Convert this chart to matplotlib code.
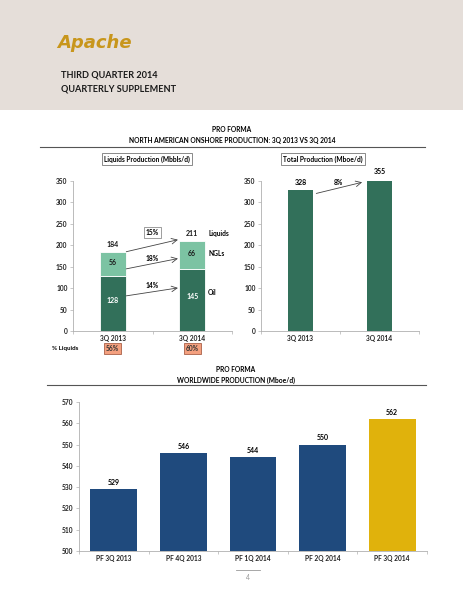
import matplotlib.pyplot as plt
from matplotlib.patches import Rectangle

# --------------- [Data] --------------- #
quarters = ["3Q 2013", "3Q 2014"]
oil = [128, 145]
ngls = [56, 66]
liquids = [184, 211]
liquids_pct = ["56%", "60%"]
growth_labels = ["15%", "18%", "14%"]

total_prod = [328, 355]
total_growth = "8%"

ww_quarters = ["PF 3Q 2013", "PF 4Q 2013", "PF 1Q 2014", "PF 2Q 2014", "PF 3Q 2014"]
ww_prod = [529, 546, 544, 550, 562]

# --------------- [Style] --------------- #
W, H = 464, 600
DARK_GREEN = "#32705a"
LIGHT_GREEN = "#7cc3a3"
NAVY = "#1f4a7d"
GOLD = "#e0b20c"
AXIS_GRAY = "#b0b0b0"
FONT = ["Lato", "DejaVu Sans"]
plt.rcParams["font.family"] = FONT


def px_rect(left, top, right, bottom):
    return [left / W, 1 - bottom / H, (right - left) / W, (bottom - top) / H]


def fx(x):
    return x / W


def fy(y):
    return 1 - y / H


def style_axes(ax, ncat):
    for s in ["top", "right"]:
        ax.spines[s].set_visible(False)
    for s in ["left", "bottom"]:
        ax.spines[s].set_color(AXIS_GRAY)
        ax.spines[s].set_linewidth(0.6)
    ax.set_xlim(-0.5, ncat - 0.5)
    ax.tick_params(axis="y", labelsize=4.8, length=2, width=0.5, color=AXIS_GRAY, pad=2)
    ax.tick_params(axis="x", which="major", labelsize=4.8, length=0, pad=3)
    ax.set_xticks([i - 0.5 for i in range(ncat + 1)], minor=True)
    ax.tick_params(axis="x", which="minor", length=2, width=0.5, color=AXIS_GRAY)
    for lab in ax.get_xticklabels() + ax.get_yticklabels():
        lab.set_fontweight("bold")
        lab.set_color("#222222")


fig = plt.figure(figsize=(W / 100, H / 100), dpi=100)

# --------------- [Header] --------------- #
fig.patches.append(Rectangle((0, fy(110)), 1, 110 / H, transform=fig.transFigure,
                             facecolor="#e5ded9", edgecolor="none", zorder=0))
fig.text(fx(57), fy(43), "Apache", fontsize=13, fontweight="bold", fontstyle="italic",
         family=["DejaVu Sans"], color="#c8961c", va="center", ha="left")
fig.text(fx(61), fy(75), "THIRD QUARTER 2014", fontsize=6.6, fontweight="bold",
         color="#1a1a1a", va="center")
fig.text(fx(61), fy(89), "QUARTERLY SUPPLEMENT", fontsize=6.6, fontweight="bold",
         color="#1a1a1a", va="center")

# --------------- [Top section titles] --------------- #
fig.text(fx(232), fy(130), "PRO FORMA", fontsize=4.8, fontweight="bold", ha="center", va="center")
fig.text(fx(232), fy(140), "NORTH AMERICAN ONSHORE PRODUCTION: 3Q 2013 VS 3Q 2014",
         fontsize=4.8, fontweight="bold", ha="center", va="center")
fig.add_artist(plt.Line2D([fx(40), fx(425)], [fy(147), fy(147)], color="#555555", lw=0.8))

for cx, label in [(147, "Liquids Production (Mbbls/d)"), (323, "Total Production (Mboe/d)")]:
    fig.text(fx(cx), fy(159), label, fontsize=4.8, fontweight="bold", ha="center", va="center",
             bbox=dict(boxstyle="square,pad=0.35", fc="white", ec="#777777", lw=0.6))

# --------------- [Liquids chart] --------------- #
ax1 = fig.add_axes(px_rect(73, 181, 232, 331))
x = list(range(len(quarters)))
ax1.bar(x, oil, width=0.33, color=DARK_GREEN, edgecolor="white", linewidth=0.6)
ax1.bar(x, ngls, bottom=oil, width=0.33, color=LIGHT_GREEN, edgecolor="white", linewidth=0.6)
ax1.set_ylim(0, 350)
ax1.set_yticks(range(0, 351, 50))
ax1.set_xticks(x)
ax1.set_xticklabels(quarters)
style_axes(ax1, len(quarters))

for i in x:
    ax1.text(i, oil[i] / 2 + 8, str(oil[i]), color="white", fontsize=5, fontweight="bold",
             ha="center", va="center")
    ax1.text(i, oil[i] + ngls[i] / 2 + 4, str(ngls[i]), color="#1a1a1a", fontsize=5,
             fontweight="bold", ha="center", va="center")
    ax1.text(i, liquids[i] + 17, str(liquids[i]), color="#1a1a1a", fontsize=5,
             fontweight="bold", ha="center", va="center")
    ax1.text(i, -41, liquids_pct[i], fontsize=4.8, fontweight="bold", color="#333333",
             ha="center", va="center", clip_on=False,
             bbox=dict(boxstyle="square,pad=0.3", fc="#f4a07f", ec="#9a4a30", lw=0.5))
ax1.text(-0.6, -41, "% Liquids", fontsize=4.5, fontweight="bold", ha="center", va="center",
         clip_on=False)

side = [("Liquids", liquids[1] + 17), ("NGLs", oil[1] + ngls[1] / 2 + 4), ("Oil", oil[1] / 2 + 18)]
for name, yv in side:
    ax1.text(1.2, yv, name, fontsize=4.8, fontweight="bold", ha="left", va="center")

arrows = [
    (liquids[0] + 1, liquids[1] + 2),
    (oil[0] + 17, oil[1] + 24),
    (oil[0] / 2 + 18, oil[1] / 2 + 28),
]
label_y = [229, 170, 105]
for (y0, y1), lab, ly in zip(arrows, growth_labels, label_y):
    ax1.annotate("", xy=(0.82, y1), xytext=(0.17, y0),
                 arrowprops=dict(arrowstyle="->", color="#444444", lw=0.6,
                                 shrinkA=0, shrinkB=0))
    box = dict(boxstyle="square,pad=0.3", fc="white", ec="#777777", lw=0.5) if lab == "15%" else None
    ax1.text(0.5, ly, lab, fontsize=4.8, fontweight="bold", ha="center", va="center", bbox=box)

# --------------- [Total chart] --------------- #
ax2 = fig.add_axes(px_rect(261, 181, 419, 331))
ax2.bar(x, total_prod, width=0.32, color=DARK_GREEN)
ax2.set_ylim(0, 350)
ax2.set_yticks(range(0, 351, 50))
ax2.set_xticks(x)
ax2.set_xticklabels(quarters)
style_axes(ax2, len(quarters))
ax2.text(0, total_prod[0] + 18, str(total_prod[0]), fontsize=5, fontweight="bold",
         ha="center", va="center", clip_on=False)
ax2.text(1, total_prod[1] + 16, str(total_prod[1]), fontsize=5, fontweight="bold",
         ha="center", va="center", clip_on=False)
ax2.annotate("", xy=(0.78, total_prod[1] - 8), xytext=(0.2, total_prod[0] - 7),
             arrowprops=dict(arrowstyle="->", color="#444444", lw=0.6, shrinkA=0, shrinkB=0),
             annotation_clip=False)
ax2.text(0.48, total_prod[1] - 9, total_growth, fontsize=4.8, fontweight="bold",
         ha="center", va="center", clip_on=False)

# --------------- [Worldwide chart] --------------- #
fig.text(fx(236), fy(369), "PRO FORMA", fontsize=4.8, fontweight="bold", ha="center", va="center")
fig.text(fx(236), fy(380), "WORLDWIDE PRODUCTION (Mboe/d)", fontsize=4.8, fontweight="bold",
         ha="center", va="center")
fig.add_artist(plt.Line2D([fx(47), fx(426)], [fy(385), fy(385)], color="#555555", lw=0.8))

ax3 = fig.add_axes(px_rect(79, 402, 427, 551))
xw = list(range(len(ww_quarters)))
colors = [NAVY] * (len(ww_prod) - 1) + [GOLD]
ax3.bar(xw, [v - 500 for v in ww_prod], bottom=500, width=0.67, color=colors)
ax3.set_ylim(500, 570)
ax3.set_yticks(range(500, 571, 10))
ax3.set_xticks(xw)
ax3.set_xticklabels(ww_quarters)
style_axes(ax3, len(ww_quarters))
for i, v in zip(xw, ww_prod):
    ax3.text(i, v + 3.2, str(v), fontsize=5, fontweight="bold", ha="center", va="center")

# --------------- [Page number] --------------- #
fig.add_artist(plt.Line2D([fx(236), fx(260)], [fy(570), fy(570)], color="#999999", lw=0.6))
fig.text(fx(248), fy(577), "4", fontsize=5, color="#999999", ha="center", va="center")

fig.savefig("out.png", dpi=100)
